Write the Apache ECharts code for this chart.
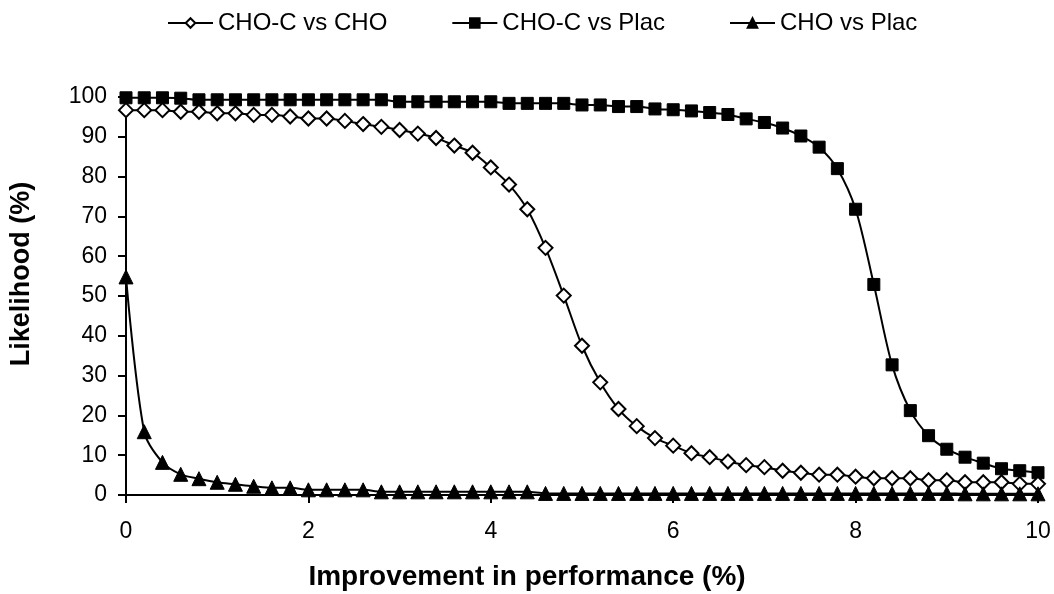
<!DOCTYPE html>
<html>
<head>
<meta charset="utf-8">
<script src="https://cdn.jsdelivr.net/npm/echarts@6/dist/echarts.min.js"></script>
<style>
html,body{margin:0;padding:0;background:#fff;}
#chart{width:1054px;height:594px;}
</style>
</head>
<body>
<div id="chart"></div>
<script>
// x values: improvement in performance (%) from 0 to 10 step 0.2
const improvement = [0,0.2,0.4,0.6,0.8,1,1.2,1.4,1.6,1.8,2,2.2,2.4,2.6,2.8,3,3.2,3.4,3.6,3.8,4,4.2,4.4,4.6,4.8,5,5.2,5.4,5.6,5.8,6,6.2,6.4,6.6,6.8,7,7.2,7.4,7.6,7.8,8,8.2,8.4,8.6,8.8,9,9.2,9.4,9.6,9.8,10];

const choCvsCho = [96.7,96.7,96.7,96.3,96.3,95.9,95.9,95.5,95.5,95.1,94.6,94.6,94.0,93.2,92.5,91.7,90.8,89.7,87.8,86.0,82.3,78.0,71.8,62.1,50.1,37.5,28.3,21.6,17.3,14.3,12.4,10.5,9.5,8.4,7.5,7.0,6.1,5.6,5.1,5.1,4.6,4.2,4.2,4.2,3.7,3.7,3.2,3.2,3.2,2.8,2.8];

const choCvsPlac = [99.8,99.8,99.8,99.7,99.3,99.3,99.3,99.3,99.3,99.3,99.3,99.3,99.3,99.3,99.3,98.8,98.8,98.8,98.8,98.8,98.8,98.4,98.4,98.4,98.4,98.0,98.0,97.6,97.6,97.0,96.8,96.5,96.1,95.6,94.5,93.6,92.2,90.2,87.4,82.0,71.8,52.9,32.7,21.2,14.9,11.5,9.5,8.0,6.6,6.1,5.6];

const choVsPlac = [54.8,15.9,8.2,5.2,4.1,3.2,2.7,2.2,1.8,1.8,1.3,1.3,1.3,1.3,0.8,0.8,0.8,0.8,0.8,0.8,0.8,0.8,0.8,0.4,0.4,0.4,0.4,0.4,0.4,0.4,0.4,0.4,0.4,0.4,0.4,0.4,0.4,0.4,0.4,0.4,0.4,0.4,0.4,0.4,0.4,0.4,0.3,0.3,0.3,0.3,0.3];

const seriesNames = ['CHO-C vs CHO','CHO-C vs Plac','CHO vs Plac'];
const xTicks = [0,2,4,6,8,10];
const yTicks = [0,10,20,30,40,50,60,70,80,90,100];
const xTitle = 'Improvement in performance (%)';
const yTitle = 'Likelihood (%)';

function pairs(ys){ return improvement.map((x,i)=>[x,ys[i]]); }

const FONT = 'Liberation Sans, Arial, sans-serif';
const chart = echarts.init(document.getElementById('chart'), null, {renderer:'canvas'});
const lineStyle = {color:'#000', width:2};
chart.setOption({
  animation:false,
  backgroundColor:'#fff',
  textStyle:{fontFamily:FONT, color:'#000'},
  legend:{
    top:6, left:162, itemWidth:45, itemHeight:12, itemGap:64,
    textStyle:{fontSize:24, color:'#000', fontFamily:FONT},
    data:seriesNames
  },
  grid:{left:126, right:16, top:97, bottom:99, containLabel:false},
  graphic:[
    {type:'text', left:'center', x:0, top:563,
     style:{text:xTitle, font:'bold 28px Liberation Sans, Arial, sans-serif', fill:'#000'}},
    {type:'text', x:22, y:274, rotation:Math.PI/2,
     style:{text:yTitle, font:'bold 27px Liberation Sans, Arial, sans-serif', fill:'#000',
            textAlign:'center', textVerticalAlign:'middle'}}
  ],
  xAxis:{
    type:'value', min:0, max:10, interval:2,
    axisLine:{onZero:false, lineStyle:{color:'#000', width:2}},
    axisTick:{show:true, inside:false, length:8, lineStyle:{color:'#000', width:2}},
    axisLabel:{fontSize:23, color:'#000', margin:25, fontFamily:FONT,
      formatter:v=>xTicks.includes(v)?String(v):''},
    splitLine:{show:false}
  },
  yAxis:{
    type:'value', min:0, max:100, interval:10,
    axisLine:{show:true, lineStyle:{color:'#000', width:2}},
    axisTick:{show:true, inside:false, length:8, lineStyle:{color:'#000', width:2}},
    axisLabel:{fontSize:23, color:'#000', margin:19, fontFamily:FONT,
      formatter:v=>yTicks.includes(v)?String(v):''},
    splitLine:{show:false}
  },
  series:[
    {name:seriesNames[0], type:'line', data:pairs(choCvsCho), smooth:0.3,
     symbol:'diamond', symbolSize:14, z:3,
     itemStyle:{color:'#fff', borderColor:'#000', borderWidth:2},
     lineStyle:lineStyle},
    {name:seriesNames[1], type:'line', data:pairs(choCvsPlac), smooth:0.3,
     symbol:'rect', symbolSize:12, z:2,
     itemStyle:{color:'#000', borderColor:'#000', borderWidth:1},
     lineStyle:lineStyle},
    {name:seriesNames[2], type:'line', data:pairs(choVsPlac), smooth:0.3,
     symbol:'triangle', symbolSize:14, z:4,
     itemStyle:{color:'#000', borderColor:'#000', borderWidth:1},
     lineStyle:lineStyle}
  ]
});
</script>
</body>
</html>
